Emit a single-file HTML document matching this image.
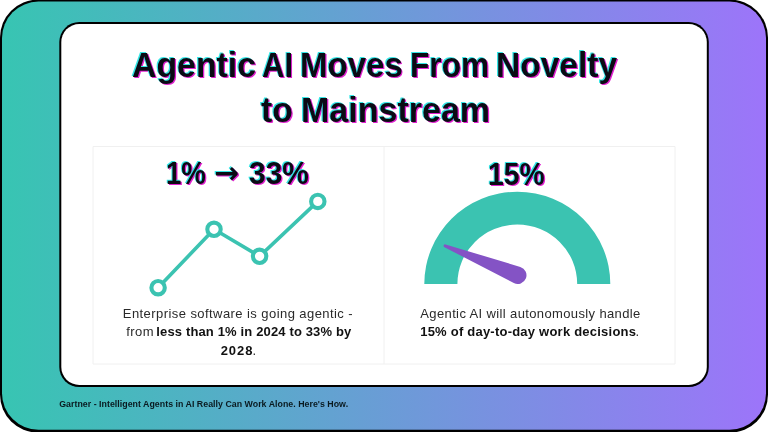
<!DOCTYPE html>
<html lang="en">
<head>
<meta charset="utf-8">
<title>Agentic AI Moves From Novelty to Mainstream</title>
<style>
  html, body { margin: 0; padding: 0; }
  body { width: 768px; height: 432px; background: #ffffff; overflow: hidden; position: relative;
         font-family: "Liberation Sans", sans-serif; color: #111; }
  svg { position: absolute; left: 0; top: 0; }
  h1, h2, p, section, footer, main { margin: 0; padding: 0; font-size: inherit; font-weight: inherit; }
  .t { position: absolute; white-space: nowrap; line-height: 1; transform-origin: 0 50%; }
  .glitch { text-shadow: -1.2px -1.2px 0.6px #35e6e6, 1.3px 1.3px 0.6px #e020d0; }
  .title { font-weight: bold; color: #0b0b14; }
  .stat { font-weight: bold; color: #0b0b14; }
  .body { font-weight: normal; color: #2a2a2a; }
  .strong { font-weight: bold; color: #111; }
  .footer { font-weight: bold; color: #0a1a20; }
  #t1a { left:131.55px;top:48.1px;font-size:35.5px;transform:scaleX(0.9531); }
  #t1b { left:262.32px;top:48.1px;font-size:35.5px;transform:scaleX(0.875); }
  #t1c { left:300.34px;top:48.1px;font-size:35.5px;transform:scaleX(0.9299); }
  #t1d { left:409.62px;top:48.1px;font-size:35.5px;transform:scaleX(0.8918); }
  #t1e { left:496.31px;top:48.1px;font-size:35.5px;transform:scaleX(0.9444); }
  #t2a { left:260.6px;top:93.3px;font-size:35.5px;transform:scaleX(0.95); }
  #t2b { left:300.58px;top:93.3px;font-size:35.5px;transform:scaleX(0.9585); }
  #s1a { left:165.7px;top:158.6px;font-size:30.7px;transform:scaleX(0.9); }
  #s1b { left:214.32px;top:158.1px;font-size:30px;transform:scaleX(0.9909);font-family:"DejaVu Sans", sans-serif; }
  #s1c { left:248.52px;top:158.6px;font-size:30.7px;transform:scaleX(0.975); }
  #s2a { left:488.16px;top:159.8px;font-size:30.7px;transform:scaleX(0.922); }
  #b1a { left:122.8px;top:307.0px;font-size:13px;letter-spacing:0.432px; }
  #b1b { left:126.3px;top:325.3px;font-size:13px;letter-spacing:0.4px; }
  #b1c { left:156.3px;top:325.3px;font-size:13px;letter-spacing:0.145px; }
  #b1d { left:220.7px;top:343.6px;font-size:13px;letter-spacing:0.933px; }
  #b1e { left:252.6px;top:343.6px;font-size:13px; }
  #b2a { left:420.3px;top:307.0px;font-size:13px;letter-spacing:0.371px; }
  #b2b { left:420.2px;top:325.3px;font-size:13px;letter-spacing:0.226px; }
  #b2c { left:635.4px;top:325.3px;font-size:13px; }
  #ft { left:59.25px;top:400.4px;font-size:8.8px;letter-spacing:0.026px; }
</style>
</head>
<body>
<svg width="768" height="432" viewBox="0 0 768 432">
  <defs>
    <linearGradient id="bg" gradientUnits="userSpaceOnUse" x1="0" y1="0" x2="768" y2="0">
      <stop offset="0" stop-color="#37c5b2"/>
      <stop offset="1" stop-color="#9d74fa"/>
    </linearGradient>
  </defs>
  <rect x="0" y="-0.4" width="768" height="433" rx="38" ry="38" fill="#000000"/>
  <rect x="2" y="1.6" width="764" height="428.1" rx="36.5" ry="36.5" fill="url(#bg)"/>
  <rect x="59.3" y="22.1" width="649.5" height="364.9" rx="20" ry="20" fill="#000000"/>
  <rect x="61.3" y="24.1" width="645.5" height="360.8" rx="18" ry="18" fill="#ffffff"/>
  <path d="M93 146.5 H675 V364 H93 Z M384 146.5 V364" fill="none" stroke="#f0f0f0" stroke-width="1"/>
  <g fill="none" stroke="#3bc3b1" stroke-width="3.6" stroke-linecap="round" stroke-linejoin="round">
    <polyline points="158.1,287.7 214,229.3 259.6,256.3 317.8,201.4"/>
  </g>
  <g fill="#ffffff" stroke="#3bc3b1" stroke-width="4.1">
    <circle cx="158.1" cy="287.7" r="6.7"/>
    <circle cx="214" cy="229.3" r="6.7"/>
    <circle cx="259.6" cy="256.3" r="6.7"/>
    <circle cx="317.8" cy="201.4" r="6.7"/>
  </g>
  <path d="M424.3 284 A93 92.3 0 0 1 610.3 284 L577.2 284 A59.9 59.5 0 0 0 457.4 284 Z" fill="#3bc3b1"/>
  <path d="M444.45 247.15 L513.80 283.03 A8.7 8.7 0 1 0 520.32 266.97 L445.57 244.38 A1.5 1.5 0 0 0 444.45 247.15 Z" fill="#8453c5"/>
</svg>
<main>
<h1>
<span class="t title glitch" id="t1a">Agentic</span>
<span class="t title glitch" id="t1b">AI</span>
<span class="t title glitch" id="t1c">Moves</span>
<span class="t title glitch" id="t1d">From</span>
<span class="t title glitch" id="t1e">Novelty</span>
<span class="t title glitch" id="t2a">to</span>
<span class="t title glitch" id="t2b">Mainstream</span>
</h1>
<section>
<h2>
<span class="t stat glitch" id="s1a">1%</span>
<span class="t stat glitch" id="s1b">→</span>
<span class="t stat glitch" id="s1c">33%</span>
</h2>
<p>
<span class="t body" id="b1a">Enterprise software is going agentic -</span>
<span class="t body" id="b1b">from</span>
<span class="t body strong" id="b1c">less than 1% in 2024 to 33% by</span>
<span class="t body strong" id="b1d">2028</span><span class="t body" id="b1e">.</span>
</p>
</section>
<section>
<h2>
<span class="t stat glitch" id="s2a">15%</span>
</h2>
<p>
<span class="t body" id="b2a">Agentic AI will autonomously handle</span>
<span class="t body strong" id="b2b">15% of day-to-day work decisions</span><span class="t body" id="b2c">.</span>
</p>
</section>
</main>
<footer>
<span class="t footer" id="ft">Gartner - Intelligent Agents in AI Really Can Work Alone. Here's How.</span>
</footer>
</body>
</html>
